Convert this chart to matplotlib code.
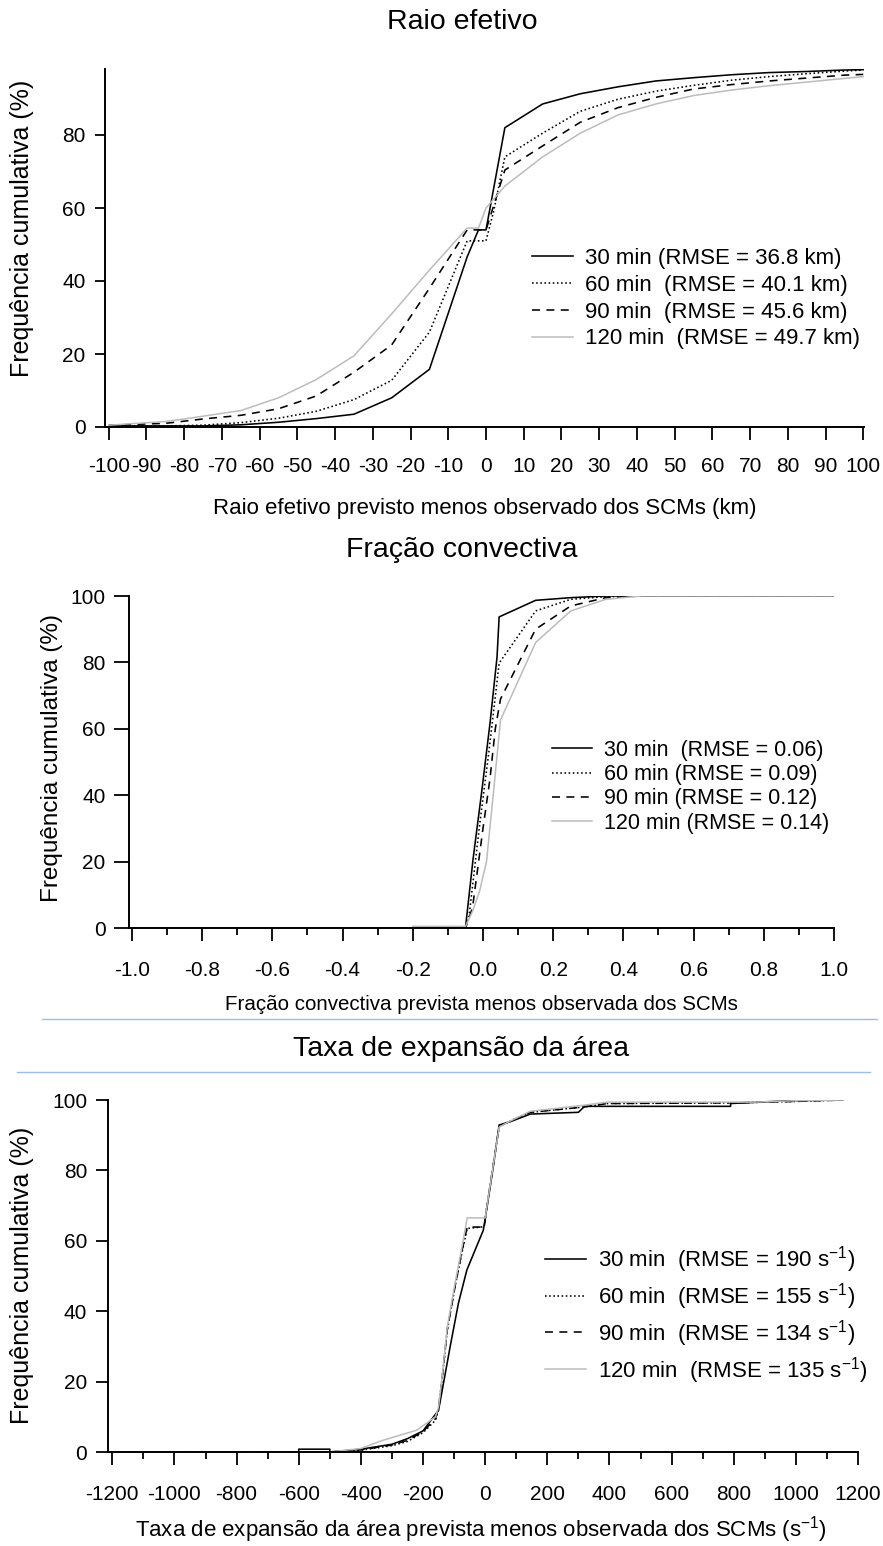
import matplotlib
matplotlib.use('Agg')
import matplotlib.pyplot as plt
from matplotlib.lines import Line2D

W, H = 883, 1546
plt.rcParams['font.family'] = ['Liberation Sans', 'DejaVu Sans']
plt.rcParams['mathtext.fontset'] = 'custom'
plt.rcParams['mathtext.rm'] = 'Liberation Sans'
plt.rcParams['mathtext.it'] = 'Liberation Sans:italic'
plt.rcParams['axes.unicode_minus'] = False

# ---------------- data ----------------
series_names = ['30 min', '60 min', '90 min', '120 min']

# Panel 1: Raio efetivo (km)
x1_30 = [-100, -75, -65, -55, -45, -35, -25, -15, -5, -2, 0, 5, 15, 25, 35, 45, 55, 65, 75, 85, 95, 100]
y1_30 = [0.3, 0.3, 0.6, 1.3, 2.3, 3.5, 8.0, 15.8, 46.6, 54.0, 54.0, 82.0, 88.5, 91.3, 93.2, 94.8, 95.7, 96.5, 97.1, 97.4, 97.8, 97.9]
x1_60 = [-100, -85, -75, -65, -55, -45, -35, -25, -15, -5, 0, 2, 5, 15, 25, 35, 45, 55, 65, 75, 85, 95, 100]
y1_60 = [0.3, 0.3, 0.5, 1.2, 2.4, 4.3, 7.5, 12.8, 26.0, 51.0, 51.0, 59.0, 74.0, 80.5, 86.5, 89.8, 92.0, 93.6, 95.0, 96.0, 96.8, 97.5, 97.8]
x1_90 = [-100, -85, -75, -65, -55, -45, -35, -25, -15, -5, 0, 5, 15, 25, 35, 45, 55, 65, 75, 85, 95, 100]
y1_90 = [0.5, 1.0, 2.2, 3.2, 5.0, 8.5, 15.0, 22.5, 38.0, 54.0, 54.0, 70.4, 77.0, 83.5, 87.5, 90.3, 92.6, 93.8, 94.8, 95.6, 96.4, 96.6]
x1_120 = [-100, -85, -80, -65, -55, -45, -35, -25, -15, -5, -2, 0, 5, 15, 25, 35, 45, 55, 65, 75, 85, 95, 100]
y1_120 = [0.5, 1.5, 2.2, 4.5, 8.0, 13.0, 19.5, 31.0, 43.0, 54.5, 54.5, 60.0, 66.0, 74.0, 80.5, 85.5, 88.5, 90.8, 92.3, 93.5, 94.5, 95.5, 96.0]
labels1 = ['30 min (RMSE = 36.8 km)', '60 min  (RMSE = 40.1 km)',
           '90 min  (RMSE = 45.6 km)', '120 min  (RMSE = 49.7 km)']
xticks1 = list(range(-100, 101, 10))
yticks1 = [0, 20, 40, 60, 80]

# Panel 2: Fração convectiva
x2_30 = [-1.0, -0.05, -0.028, -0.003, 0.02, 0.04, 0.046, 0.15, 0.25, 0.35, 0.45, 1.0]
y2_30 = [0, 0, 21.0, 41.6, 61.7, 81.6, 93.7, 98.7, 99.5, 100, 100, 100]
x2_60 = [-1.0, -0.05, -0.04, -0.009, 0.015, 0.034, 0.046, 0.15, 0.25, 0.35, 0.45, 1.0]
y2_60 = [0, 0, 3.3, 31.6, 51.5, 68.7, 79.8, 95.5, 99.0, 99.8, 100, 100]
x2_90 = [-1.0, -0.05, -0.03, 0.0, 0.02, 0.035, 0.05, 0.15, 0.25, 0.35, 0.45, 1.0]
y2_90 = [0, 0, 6.0, 30.0, 45.0, 60.0, 69.0, 90.0, 97.0, 99.5, 100, 100]
x2_120 = [-1.0, -0.2, -0.2, -0.05, -0.03, -0.01, 0.01, 0.03, 0.05, 0.15, 0.25, 0.35, 0.45, 1.0]
y2_120 = [0, 0, 0.5, 0.5, 5.0, 11.0, 20.0, 41.0, 62.7, 86.0, 95.5, 99.0, 100, 100]
labels2 = ['30 min  (RMSE = 0.06)', '60 min (RMSE = 0.09)',
           '90 min (RMSE = 0.12)', '120 min (RMSE = 0.14)']
xticks2 = [-1.0, -0.8, -0.6, -0.4, -0.2, 0.0, 0.2, 0.4, 0.6, 0.8, 1.0]
xticklabels2 = ['-1.0', '-0.8', '-0.6', '-0.4', '-0.2', '0.0', '0.2', '0.4', '0.6', '0.8', '1.0']
xminor2 = [-0.9, -0.7, -0.5, -0.3, -0.1, 0.1, 0.3, 0.5, 0.7, 0.9]
yticks2 = [0, 20, 40, 60, 80, 100]

# Panel 3: Taxa de expansão da área (s^-1)
x3_30 = [-1200, -600, -600, -500, -500, -400, -300, -250, -200, -150, -134, -113, -86, -59, -6, 6, 26, 45, 80, 145, 300, 320, 790, 790, 980, 1150]
y3_30 = [0, 0, 0.8, 0.8, 0, 0.8, 2.2, 3.8, 6.0, 11.9, 19.6, 29.8, 42.3, 51.7, 63.0, 69.6, 81.0, 92.9, 93.8, 96.0, 96.5, 98.2, 98.2, 99.0, 99.8, 100]
x3_60 = [-1200, -500, -450, -400, -300, -250, -200, -160, -150, -139, -122, -97, -75, -58, -3, 0, 6, 26, 45, 80, 145, 316, 393, 800, 1000, 1150]
y3_60 = [0, 0, 0.2, 0.5, 1.8, 3.0, 5.5, 9.0, 12.0, 20.5, 34.7, 47.0, 56.5, 63.5, 64.0, 66.0, 70.0, 81.5, 92.5, 94.0, 96.5, 98.0, 99.0, 99.2, 99.6, 100]
x3_90 = [-1200, -500, -450, -400, -300, -250, -200, -160, -150, -139, -122, -97, -75, -58, -3, 0, 6, 26, 45, 80, 145, 316, 393, 800, 1000, 1150]
y3_90 = [0, 0, 0.3, 0.6, 2.0, 3.3, 5.8, 9.5, 12.5, 20.5, 34.7, 47.0, 57.0, 63.9, 63.9, 66.0, 70.0, 81.5, 92.5, 94.0, 96.5, 98.0, 99.0, 99.2, 99.6, 100]
x3_120 = [-1200, -500, -400, -330, -220, -160, -150, -139, -122, -97, -75, -58, 0, 6, 26, 45, 80, 145, 316, 393, 870, 1000, 1150]
y3_120 = [0, 0, 1.0, 3.3, 6.2, 10.0, 12.8, 21.0, 35.5, 48.0, 58.0, 66.5, 66.5, 70.0, 81.5, 92.3, 94.0, 96.8, 98.5, 99.4, 99.4, 99.8, 100]
labels3 = ['30 min  (RMSE = 190 s$^{-1}$)', '60 min  (RMSE = 155 s$^{-1}$)',
           '90 min  (RMSE = 134 s$^{-1}$)', '120 min  (RMSE = 135 s$^{-1}$)']
xticks3 = list(range(-1200, 1201, 200))
xminor3 = list(range(-1100, 1200, 200))
yticks3 = [0, 20, 40, 60, 80, 100]

# ---------------- styles ----------------
styles = [dict(color='#000000', lw=1.15, ls='-'),
          dict(color='#000000', lw=1.15, ls=(0, (1.0, 1.6))),
          dict(color='#000000', lw=1.15, ls=(0, (5, 4))),
          dict(color='#bcbcbc', lw=1.1, ls='-')]

fig = plt.figure(figsize=(W / 100, H / 100), dpi=100)


def rect(l, t, r, b):
    return [l / W, 1 - b / H, (r - l) / W, (b - t) / H]


def to_ax(ax, px, py):
    return ax.transAxes.inverted().transform(fig.transFigure.transform((px / W, 1 - py / H)))


def style_axes(ax, tick_len=9.5, tick_pad=7, ylen=7, ypad=6):
    for s in ['top', 'right']:
        ax.spines[s].set_visible(False)
    for s in ['left', 'bottom']:
        ax.spines[s].set_linewidth(1.4)
    ax.tick_params(axis='x', direction='out', length=tick_len, width=1.3, labelsize=15, pad=tick_pad)
    ax.tick_params(axis='y', direction='out', length=ylen, width=1.3, labelsize=15, pad=ypad)
    ax.tick_params(axis='x', which='minor', direction='out', length=5, width=1.3)


def labels(ax, title, tpos, xlabel, xpos, ylabel, ypos, xfs=16, yfs=18):
    ax.set_xlabel(xlabel, fontsize=xfs, va='center')
    ax.xaxis.set_label_coords(*to_ax(ax, *xpos))
    ax.set_ylabel(ylabel, fontsize=yfs, va='center')
    ax.yaxis.set_label_coords(*to_ax(ax, *ypos))
    ax.set_title(title, fontsize=20.5, va='center', y=to_ax(ax, *tpos)[1])
    ax.title.set_x(to_ax(ax, *tpos)[0])


def legend(ax, handles_labels, px, py, fs, spacing):
    lines = [Line2D([], [], **st) for st in styles]
    ax.legend(lines, handles_labels, loc='upper left',
              bbox_to_anchor=(px / W, 1 - py / H), bbox_transform=fig.transFigure,
              frameon=False, fontsize=fs, borderpad=0, borderaxespad=0,
              handlelength=1.85, handletextpad=0.55, labelspacing=spacing)


# ---------------- Panel 1 ----------------
ax1 = fig.add_axes(rect(105, 69.3, 864, 427))
for xs, ys, st in zip([x1_30, x1_60, x1_90, x1_120], [y1_30, y1_60, y1_90, y1_120], styles):
    ax1.plot(xs, ys, **st)
ax1.set_xlim(-101, 100.2)
ax1.set_ylim(0, 98)
ax1.set_xticks(xticks1)
ax1.set_xticklabels([str(v) for v in xticks1])
ax1.set_yticks(yticks1)
style_axes(ax1, tick_len=9.5, tick_pad=12, ylen=7, ypad=7)
labels(ax1, 'Raio efetivo', (462, 30),
       'Raio efetivo previsto menos observado dos SCMs (km)', (485, 508),
       'Frequência cumulativa (%)', (22, 228))
legend(ax1, labels1, 532, 248, 16, 0.26)

# ---------------- Panel 2 ----------------
ax2 = fig.add_axes(rect(129, 596, 834, 928))
for xs, ys, st in zip([x2_30, x2_60, x2_90, x2_120], [y2_30, y2_60, y2_90, y2_120], styles):
    ax2.plot(xs, ys, **st)
ax2.set_xlim(-1.0085, 1.0)
ax2.set_ylim(0, 100)
ax2.set_xticks(xticks2)
ax2.set_xticklabels(xticklabels2)
ax2.set_xticks(xminor2, minor=True)
ax2.set_yticks(yticks2)
style_axes(ax2, tick_len=9.5, tick_pad=14.5, ylen=11, ypad=6)
labels(ax2, 'Fração convectiva', (462, 558),
       'Fração convectiva prevista menos observada dos SCMs', (481, 1005),
       'Frequência cumulativa (%)', (52, 758), xfs=14.8, yfs=17.5)
legend(ax2, labels2, 552, 740, 15.5, 0.15)

# ---------------- Panel 3 ----------------
ax3 = fig.add_axes(rect(108, 1100, 858, 1452))
for xs, ys, st in zip([x3_30, x3_60, x3_90, x3_120], [y3_30, y3_60, y3_90, y3_120], styles):
    ax3.plot(xs, ys, **st)
ax3.set_xlim(-1214, 1200)
ax3.set_ylim(0, 100)
ax3.set_xticks(xticks3)
ax3.set_xticklabels([str(v) for v in xticks3])
ax3.set_xticks(xminor3, minor=True)
ax3.set_yticks(yticks3)
style_axes(ax3, tick_len=9.5, tick_pad=14, ylen=9, ypad=6)
labels(ax3, 'Taxa de expansão da área', (461, 1057),
       'Taxa de expansão da área prevista menos observada dos SCMs (s$^{-1}$)', (481, 1530),
       'Frequência cumulativa (%)', (22, 1275))
legend(ax3, labels3, 545, 1244, 16, 0.27)

# thin separator lines
sep_color = '#9dbde6'
fig.add_artist(Line2D([42 / W, 877 / W], [1 - 1018.5 / H, 1 - 1018.5 / H], color=sep_color, lw=1.0))
fig.add_artist(Line2D([17 / W, 870 / W], [1 - 1071.5 / H, 1 - 1071.5 / H], color=sep_color, lw=1.0))

fig.savefig('out.png', dpi=100, facecolor='white')
